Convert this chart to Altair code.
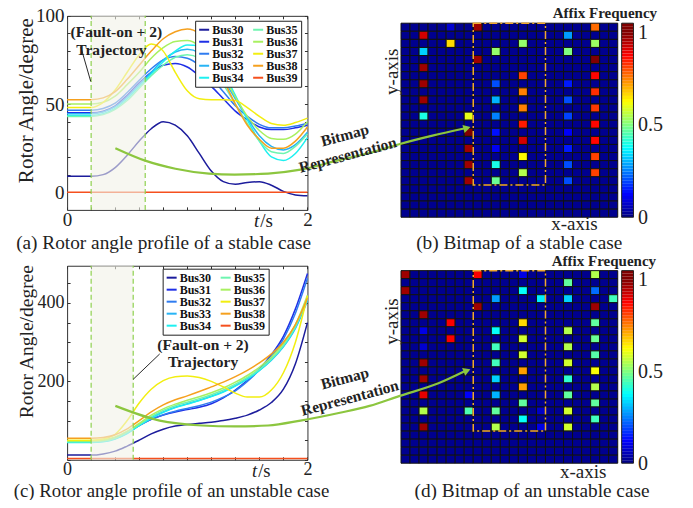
import altair as alt
import pandas as pd

# ---------------- layout helpers (reference pixels -> chart pixels) ----------------
W, H = 677, 492
SX, OX, SY, OY = 0.985, 3.0, 0.98, 2.0


def px(v):
    return round((v - OX) * SX, 2)


def py(v):
    return round((v - OY) * SY, 2)


FONT = "Liberation Serif"
INK = "#222222"
AXC = "#333333"
GREEN = "#8cc63f"

# ---------------- data ----------------
times = [round(0.1 * i, 1) for i in range(21)]
buses = ["Bus30", "Bus31", "Bus32", "Bus33", "Bus34", "Bus35", "Bus36", "Bus37", "Bus38", "Bus39"]
bus_colors = ["#1c1c9c", "#1f2fe6", "#2f7cf0", "#28b4f5", "#1ef0f0",
              "#6ef5b0", "#a8f060", "#f2ee10", "#f5a01e", "#f5501e"]

stable_angles = {
    "Bus30": [9, 9, 9, 10, 14, 21, 29, 36, 40, 38, 32, 22, 12, 6, 4.5, 5.5, 6, 4, 0.5, -1.5, -2],
    "Bus31": [45, 45, 45, 46, 49, 55, 62, 68, 72, 73, 71, 66, 60, 53, 46, 41, 37, 35.5, 35.5, 36.5, 38],
    "Bus32": [46.5, 46.5, 46.5, 47.5, 50.5, 56.5, 63.5, 70, 75, 77, 76, 72, 65, 57, 49, 43, 38.5, 36.5, 36.5, 37.5, 39],
    "Bus33": [44.5, 44.5, 44.5, 45.5, 48.5, 54, 61, 68, 75, 79.5, 81, 79, 73, 64, 53, 42, 32, 26, 24, 27, 34],
    "Bus34": [43.5, 43.5, 43.5, 44.5, 47.5, 53, 60, 67, 74, 80, 83.5, 83, 78, 68, 55, 41, 29, 20, 18, 22, 31],
    "Bus35": [43, 43, 43, 44, 47, 52, 59, 66, 72, 76.5, 78, 76, 70, 61, 50, 39, 29, 23, 22, 26, 33],
    "Bus36": [50, 50, 50, 51, 54.5, 61, 68, 76, 82, 85.5, 86, 83, 76, 66, 54, 43, 35, 30.5, 30, 33, 40],
    "Bus37": [48, 48, 48, 51, 58, 68, 78, 84, 80, 68, 57.5, 53, 52.5, 52.5, 52, 48, 43, 39, 38, 39.5, 42],
    "Bus38": [52.5, 52.5, 52.5, 53.5, 57, 64, 72, 80, 87, 91, 92.5, 90, 80, 64, 50, 38, 30, 25, 25, 29, 37],
    "Bus39": [0, 0, 0, 0, 0, 0, 0, 0, 0, 0, 0, 0, 0, 0, 0, 0, 0, 0, 0, 0, 0],
}

unstable_angles = {
    "Bus30": [12, 12, 12, 15, 22, 35, 50, 66, 78, 86, 90, 93, 96, 100, 106, 114, 127, 146, 180, 245, 350],
    "Bus31": [47, 47, 47, 49, 56, 70, 88, 103, 114, 122, 128, 134, 143, 158, 178, 203, 232, 268, 315, 385, 475],
    "Bus32": [46, 46, 46, 48, 55, 69, 87, 103, 115, 124, 131, 138, 147, 160, 176, 200, 229, 263, 308, 374, 463],
    "Bus33": [45, 45, 45, 47, 54, 68, 88, 107, 122, 134, 143, 152, 162, 174, 189, 207, 228, 254, 288, 335, 405],
    "Bus34": [44, 44, 44, 46, 53, 67, 87, 106, 121, 133, 142, 151, 161, 173, 188, 206, 228, 255, 290, 338, 410],
    "Bus35": [46, 46, 46, 48, 55, 70, 90, 110, 126, 138, 147, 156, 166, 178, 193, 210, 231, 257, 292, 340, 412],
    "Bus36": [48, 48, 48, 50, 58, 73, 93, 114, 130, 142, 152, 161, 171, 183, 198, 215, 236, 262, 297, 345, 420],
    "Bus37": [50, 50, 50, 53, 65, 100, 145, 180, 202, 212, 214, 210, 200, 186, 170, 160, 160, 178, 222, 300, 418],
    "Bus38": [55, 55, 55, 57, 64, 79, 100, 122, 140, 153, 163, 174, 186, 198, 212, 228, 247, 270, 300, 345, 412],
    "Bus39": [3, 3, 3, 3, 3, 3, 3, 3, 3, 3, 3, 3, 3, 3, 3, 3, 3, 3, 3, 3, 3],
}

fault_start = 0.2
fault_end_stable = 0.65
fault_end_unstable = 0.55

# bitmap cells (row, column, affix frequency); all other cells are near zero
stable_cells = [
    (0, 8, 0.97), (0, 5, 0.08), (1, 2, 0.92), (2, 5, 0.66), (3, 2, 0.33), (3, 10, 0.52),
    (4, 8, 0.97), (5, 2, 0.97), (7, 2, 0.97), (7, 10, 0.2), (9, 2, 0.97), (9, 10, 0.3),
    (11, 2, 0.4), (11, 7, 0.6), (11, 10, 0.25), (13, 7, 1.0), (13, 10, 0.14), (15, 7, 0.97),
    (15, 10, 0.11), (17, 7, 0.97), (17, 10, 0.4), (19, 7, 0.97), (19, 10, 0.48),
    (0, 21, 0.77), (1, 18, 0.28), (2, 13, 0.52), (2, 21, 0.53), (3, 18, 0.5), (4, 21, 1.0),
    (6, 13, 0.81), (6, 21, 0.87), (7, 18, 0.15), (8, 13, 0.75), (8, 21, 0.83), (9, 18, 0.2),
    (10, 13, 0.75), (10, 21, 0.82), (11, 18, 0.19), (12, 13, 0.85), (12, 21, 0.87),
    (13, 18, 0.12), (14, 13, 0.92), (14, 21, 0.87), (15, 18, 0.15), (16, 13, 0.63),
    (16, 21, 0.81), (17, 18, 0.2), (18, 13, 0.55), (18, 21, 0.81), (19, 18, 0.2),
]
unstable_cells = [
    (0, 0, 0.97), (0, 8, 0.88), (0, 13, 0.1), (0, 21, 0.55), (1, 18, 0.47), (2, 0, 0.97),
    (2, 13, 0.38), (2, 21, 0.23), (3, 10, 0.28), (3, 15, 0.36), (3, 18, 0.33), (3, 23, 0.44),
    (4, 8, 0.97), (4, 21, 0.97), (5, 2, 0.97), (6, 5, 0.88), (6, 13, 0.66), (6, 21, 0.47),
    (7, 2, 0.1), (7, 10, 0.38), (7, 18, 0.55), (8, 5, 0.88), (8, 13, 0.58), (8, 21, 0.48),
    (9, 2, 0.08), (9, 10, 0.44), (9, 18, 0.55), (10, 13, 0.58), (10, 21, 0.46), (11, 2, 0.97),
    (11, 10, 0.44), (11, 18, 0.58), (12, 13, 0.72), (12, 21, 0.62), (13, 2, 0.97),
    (13, 10, 0.33), (13, 18, 0.42), (14, 13, 0.72), (14, 21, 0.55), (15, 2, 0.9),
    (15, 7, 0.12), (15, 10, 0.3), (15, 18, 0.47), (16, 13, 0.47), (16, 21, 0.47),
    (17, 2, 0.55), (17, 7, 0.45), (17, 10, 0.47), (17, 15, 0.07), (17, 18, 0.58),
    (18, 13, 0.38), (18, 21, 0.44), (19, 2, 0.97), (19, 10, 0.55), (19, 15, 0.1), (19, 18, 0.58),
]
bitmap_size = 24
bitmap_base = 0.015
focus_cols = [8, 16]
focus_rows = [0, 20]
colorbar_top = 1.05

jet_stops = [0, 0.125, 0.375, 0.625, 0.875, 1]
jet_colors = ["#000080", "#0000ff", "#00ffff", "#ffff00", "#ff0000", "#800000"]

# arrow paths (reference pixels)
arrow_top = [(112, 145), (143, 158), (173, 166), (207, 171), (233, 172), (267, 171),
             (300, 167), (340, 157), (370, 150), (400, 141), (435, 132), (466, 125)]
arrow_bottom = [(112, 408), (157, 423), (200, 428), (233, 429), (267, 428), (300, 423),
                (340, 415), (370, 408), (400, 398), (440, 385), (466, 373)]

one = pd.DataFrame({"k": [0]})

jet = alt.Scale(domain=jet_stops, range=jet_colors, interpolate="rgb", clamp=True)


def line_panel(angles, ydom, top_ref, bot_ref, ylabels, yticks, fault_end, leg_xy, lab_size):
    rows = [{"t": tt, "angle": v, "bus": b} for b in buses for tt, v in zip(times, angles[b])]
    df = pd.DataFrame(rows)
    xs = alt.Scale(domain=[0, 2], range=[px(63), px(307)], nice=False, zero=False)
    ys = alt.Scale(domain=ydom, range=[py(bot_ref), py(top_ref)], nice=False, zero=False)
    xticks = [round(0.2 * i, 1) for i in range(11)]
    lab = dict(labelFont=FONT, labelFontSize=lab_size, labelColor=INK, grid=False, title=None,
               format="d", labelOverlap=False)
    ax_x_lab = alt.Axis(orient="bottom", offset=py(bot_ref) - H, values=[0, 1, 2], ticks=False,
                        domain=True, domainColor=AXC, labelPadding=1, labelFlush=False, **lab)
    ax_y_lab = alt.Axis(orient="left", offset=-px(63), values=ylabels, ticks=False,
                        domain=True, domainColor=AXC, labelPadding=3, **lab)
    tk = dict(labels=False, ticks=True, tickSize=3, tickColor=AXC, grid=False, title=None)
    ax_x_tick = alt.Axis(orient="top", offset=-py(bot_ref), values=xticks, domain=False, **tk)
    ax_y_tick = alt.Axis(orient="right", offset=px(63) - W, values=yticks, domain=False, **tk)
    ax_x_top = alt.Axis(orient="bottom", offset=py(top_ref) - H, values=xticks, domain=True,
                        domainColor=AXC, **tk)
    ax_y_right = alt.Axis(orient="left", offset=-px(307), values=yticks, domain=True,
                          domainColor=AXC, **tk)

    lines = alt.Chart(df).mark_line(strokeWidth=1.5, interpolate="monotone").encode(
        x=alt.X("t:Q", scale=xs, axis=ax_x_lab),
        y=alt.Y("angle:Q", scale=ys, axis=ax_y_lab),
        color=alt.Color("bus:N", scale=alt.Scale(domain=buses, range=bus_colors),
                        legend=alt.Legend(orient="none", legendX=px(leg_xy[0]), legendY=py(leg_xy[1]),
                                          columns=2, symbolType="stroke", symbolStrokeWidth=2,
                                          symbolSize=100, labelFont=FONT, labelFontWeight="bold",
                                          labelFontSize=12, labelColor="#111", fillColor="white",
                                          strokeColor="#222", padding=3, rowPadding=0,
                                          columnPadding=5, labelOffset=2, title=None)),
    )
    shade_df = pd.DataFrame({"t0": [fault_start], "t1": [fault_end], "y0": [ydom[0]], "y1": [ydom[1]]})
    shade = alt.Chart(shade_df).mark_rect(color="#f1f1e8", opacity=0.6).encode(
        x=alt.X("t0:Q", scale=xs, axis=ax_x_tick), x2="t1:Q",
        y=alt.Y("y0:Q", scale=ys, axis=ax_y_tick), y2="y1:Q")
    rule_df = pd.DataFrame({"t": [fault_start, fault_end], "y0": [ydom[0]] * 2, "y1": [ydom[1]] * 2})
    rules = alt.Chart(rule_df).mark_rule(color="#8fd14f", strokeDash=[5, 3], strokeWidth=1.2).encode(
        x=alt.X("t:Q", scale=xs, axis=ax_x_top),
        y=alt.Y("y0:Q", scale=ys, axis=ax_y_right), y2="y1:Q")
    return alt.layer(lines, shade, rules).resolve_axis(x="independent", y="independent")


def bitmap_panel(cells, top_ref, bot_ref):
    lookup = {(r, c): v for r, c, v in cells}
    rows = []
    for r in range(bitmap_size):
        for c in range(bitmap_size):
            rows.append({"c": c, "c1": c + 1, "r": r, "r1": r + 1,
                         "val": lookup.get((r, c), bitmap_base)})
    xs = alt.Scale(domain=[0, bitmap_size], range=[px(402), px(622)], nice=False, zero=False)
    ys = alt.Scale(domain=[0, bitmap_size], range=[py(top_ref), py(bot_ref)], nice=False, zero=False)
    heat = alt.Chart(pd.DataFrame(rows)).mark_rect(stroke="#111111", strokeWidth=1).encode(
        x=alt.X("c:Q", scale=xs, axis=None), x2="c1:Q",
        y=alt.Y("r:Q", scale=ys, axis=None), y2="r1:Q",
        color=alt.Color("val:Q", scale=jet, legend=None))
    box_df = pd.DataFrame({"c": [focus_cols[0]], "c1": [focus_cols[1]],
                           "r": [focus_rows[0]], "r1": [focus_rows[1]]})
    box = alt.Chart(box_df).mark_rect(filled=False, stroke="#f0a830", strokeWidth=1.5,
                                      strokeDash=[8, 3, 2, 3]).encode(
        x=alt.X("c:Q", scale=xs, axis=None), x2="c1:Q",
        y=alt.Y("r:Q", scale=ys, axis=None), y2="r1:Q")
    return alt.layer(heat, box)


def colorbar(top_ref, bot_ref):
    n = 64
    step = colorbar_top / n
    df = pd.DataFrame({"v0": [i * step for i in range(n)], "v1": [(i + 1) * step for i in range(n)],
                       "vm": [(i + 0.5) * step for i in range(n)]})
    ys = alt.Scale(domain=[0, colorbar_top], range=[py(bot_ref), py(top_ref)], nice=False, zero=False)
    return alt.Chart(df).mark_rect().encode(
        x=alt.value(px(626)), x2=alt.value(px(638)),
        y=alt.Y("v0:Q", scale=ys, axis=alt.Axis(orient="right", offset=px(638) - W, values=[0, 0.5, 1],
                                                  ticks=False, domain=False, labelFont=FONT,
                                                  labelFontSize=20, labelColor=INK, labelPadding=4,
                                                  format=".1~f", grid=False, title=None)),
        y2="v1:Q", color=alt.Color("vm:Q", scale=jet, legend=None))


def frame(x0, x1, y0, y1):
    return alt.Chart(one).mark_rect(filled=False, stroke="#222222", strokeWidth=1).encode(
        x=alt.value(px(x0)), x2=alt.value(px(x1)), y=alt.value(py(y0)), y2=alt.value(py(y1)))


def text(s, x, y, size, weight="normal", angle=0, align="center", style="normal", color=INK):
    return alt.Chart(one).mark_text(text=s, font=FONT, fontSize=size, fontWeight=weight,
                                    fontStyle=style, angle=angle, align=align, baseline="middle",
                                    color=color).encode(x=alt.value(px(x)), y=alt.value(py(y)))


def pointer(x0, y0, x1, y1):
    return alt.Chart(one).mark_rule(color="#111111", strokeWidth=0.9).encode(
        x=alt.value(px(x0)), y=alt.value(py(y0)), x2=alt.value(px(x1)), y2=alt.value(py(y1)))


panel_a = line_panel(stable_angles, [-10, 100], 10, 208, [0, 50, 100], list(range(0, 101, 10)),
                     fault_end_stable, (193, 15), 19)
panel_c = line_panel(unstable_angles, [0, 495], 265, 463, [200, 400], list(range(0, 451, 50)),
                     fault_end_unstable, (160, 268), 18)
bitmap_b = bitmap_panel(stable_cells, 17.5, 215.5)
bitmap_d = bitmap_panel(unstable_cells, 270, 466.5)
cbar_b = colorbar(17.5, 215.5)
cbar_d = colorbar(270, 466.5)

arrow_rows = [{"x": px(x), "y": py(y), "arrow": "top"} for x, y in arrow_top] + \
             [{"x": px(x), "y": py(y), "arrow": "bottom"} for x, y in arrow_bottom]
pxs = alt.Scale(domain=[0, W], range=[0, W], nice=False, zero=False)
pys = alt.Scale(domain=[0, H], range=[0, H], nice=False, zero=False)
arrows = alt.Chart(pd.DataFrame(arrow_rows)).mark_line(color=GREEN, strokeWidth=2.2,
                                                       interpolate="monotone").encode(
    x=alt.X("x:Q", scale=pxs, axis=None), y=alt.Y("y:Q", scale=pys, axis=None),
    detail="arrow:N", order="x:Q")
head_top = alt.Chart(one).mark_point(shape="triangle-right", filled=True, size=70, angle=345,
                                     color=GREEN, opacity=1).encode(
    x=alt.value(px(469)), y=alt.value(py(124.5)))
head_bottom = alt.Chart(one).mark_point(shape="triangle-right", filled=True, size=70, angle=338,
                                        color=GREEN, opacity=1).encode(
    x=alt.value(px(469)), y=alt.value(py(372)))

texts = [
    text("(a) Rotor angle profile of a stable case", 161, 241.5, 19.3),
    text("(b) Bitmap of a stable case", 522, 241.5, 19.3),
    text("(c) Rotor angle profile of an unstable case", 169, 494.5, 18.8),
    text("(d) Bitmap of an unstable case", 535, 494.5, 19.3),
    text("Rotor Angle/degree", 22, 96.5, 21, angle=270),
    text("Rotor Angle/degree", 22, 342.5, 19.5, angle=270),
    text("t", 258, 219, 19, style="italic", align="right"),
    text("/s", 259, 219, 19, align="left"),
    text("t", 256, 474.5, 18.5, style="italic", align="right"),
    text("/s", 257, 474.5, 18.5, align="left"),
    text("(Fault-on + 2)", 113, 26, 15.5, weight="bold"),
    text("Trajectory", 108, 45, 15.5, weight="bold"),
    text("(Fault-on + 2)", 201, 346, 15.5, weight="bold"),
    text("Trajectory", 201, 363, 15.5, weight="bold"),
    text("Affix Frequency", 609, 7.5, 15, weight="bold"),
    text("Affix Frequency", 608, 260, 15, weight="bold"),
    text("x-axis", 578, 222.5, 19),
    text("x-axis", 587, 475, 19),
    text("y-axis", 393, 67, 19, angle=270),
    text("y-axis", 393, 322, 19, angle=270),
    text("Bitmap", 345, 132, 15.5, weight="bold", angle=345),
    text("Representation", 348, 152, 15.5, weight="bold", angle=345),
    text("Bitmap", 345, 380, 15.5, weight="bold", angle=345),
    text("Representation", 350, 400, 15.5, weight="bold", angle=345),
]

chart = alt.layer(
    panel_a, panel_c, bitmap_b, bitmap_d, cbar_b, cbar_d,
    frame(626, 638, 17.5, 215.5), frame(626, 638, 270, 466.5),
    pointer(77, 42, 87, 77), pointer(157, 355, 130, 381),
    arrows, head_top, head_bottom, *texts,
).resolve_scale(x="independent", y="independent", color="independent").properties(
    width=W, height=H, autosize=alt.AutoSizeParams(type="none"), padding=0,
    background="white",
).configure_view(strokeWidth=0)

chart.save("out.html", embed_options={"renderer": "svg", "actions": False})
